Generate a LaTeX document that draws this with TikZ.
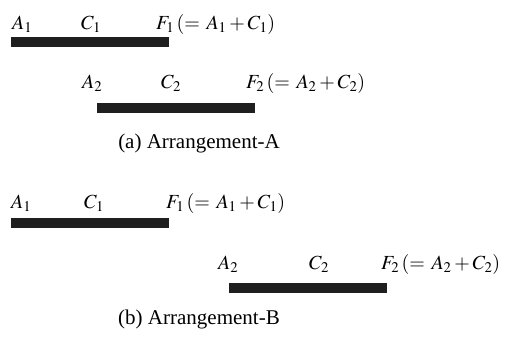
\documentclass[tikz,border=0pt]{standalone}
\usepackage{mathptmx}
\usepackage[no-math]{fontspec}
\setmainfont{Liberation Serif}
\usepackage{tikz}
\usetikzlibrary{positioning}

\begin{document}
\begin{tikzpicture}[
    x=1pt, y=-1pt,
    font=\fontsize{20}{24}\selectfont,
    bar/.style={rectangle, fill=black!88, inner sep=0pt, minimum width=158pt, minimum height=10pt},
    lbl/.style={anchor=base west, inner sep=0pt},
    captext/.style={anchor=base, inner sep=0pt, font=\fontsize{21}{25}\selectfont}
]
    \useasboundingbox (0,0) rectangle (505,338);

    % Arrangement-A
    \node (barAone) at (90,42) [bar] {};
    \node (aAone) at (12,29) [lbl] {$A_1$};
    \node (cAone) at (81,29) [lbl] {$C_1$};
    \node (fAone) at (156,29) [lbl] {$F_1\,(=\,A_1+C_1)$};

    \node (barAtwo) at (176,108) [bar] {};
    \node (aAtwo) at (82,88) [lbl] {$A_2$};
    \node (cAtwo) at (161,88) [lbl] {$C_2$};
    \node (fAtwo) at (246,88) [lbl] {$F_2\,(=\,A_2+C_2)$};

    \node (capA) at (199,148) [captext] {(a) Arrangement-A};

    % Arrangement-B
    \node (barBone) at (90,223) [bar] {};
    \node (aBone) at (11,208) [lbl] {$A_1$};
    \node (cBone) at (84,208) [lbl] {$C_1$};
    \node (fBone) at (166,208) [lbl] {$F_1\,(=\,A_1+C_1)$};

    \node (barBtwo) at (308,288) [bar] {};
    \node (aBtwo) at (218,269) [lbl] {$A_2$};
    \node (cBtwo) at (309,269) [lbl] {$C_2$};
    \node (fBtwo) at (381,269) [lbl] {$F_2\,(=\,A_2+C_2)$};

    \node (capB) at (199,324) [captext] {(b) Arrangement-B};
\end{tikzpicture}
\end{document}
